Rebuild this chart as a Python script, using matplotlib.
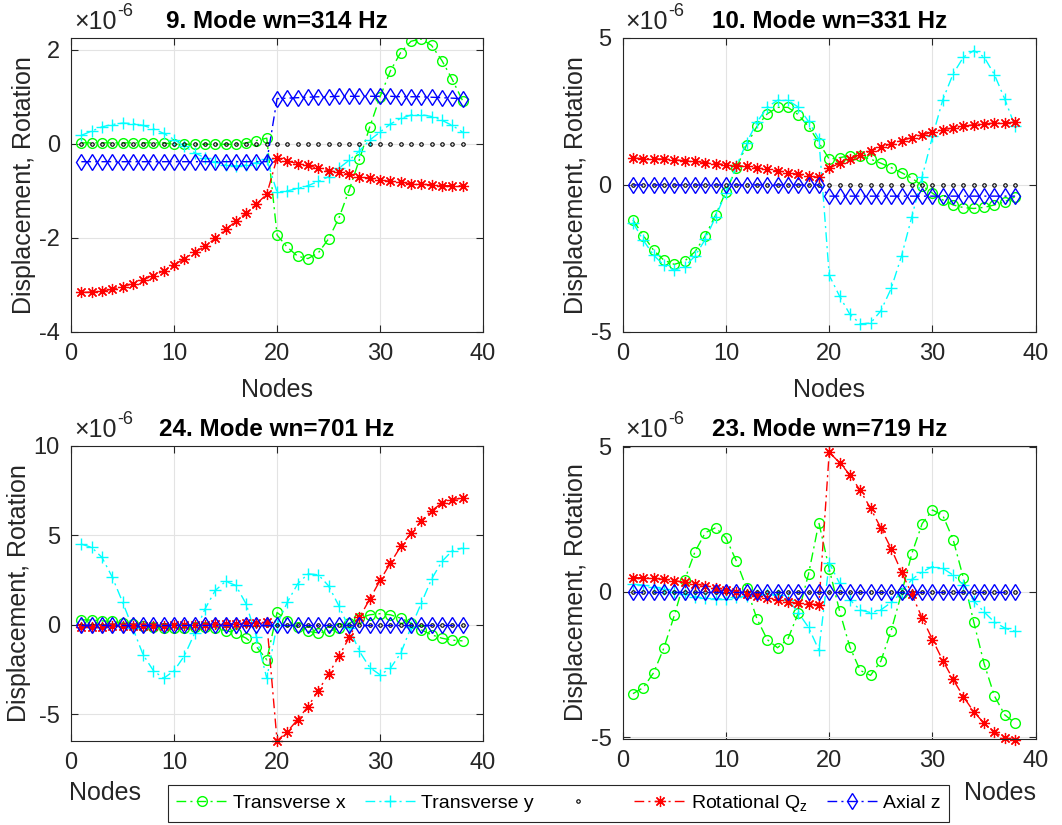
import matplotlib
matplotlib.use('Agg')
import matplotlib.pyplot as plt
from matplotlib.ticker import FuncFormatter
import numpy as np

plt.rcParams['font.family'] = ['Liberation Sans', 'DejaVu Sans']
plt.rcParams['axes.unicode_minus'] = False

nodes = np.arange(1, 39)

# values in units of 1e-6
# 9. Mode wn=314 Hz
m9_tx = [0.02, 0.02, 0.02, 0.02, 0.02, 0.02, 0.02, 0.02, 0.02, -0.01, -0.01, -0.01, -0.01, -0.01, -0.01,
         -0.01, 0.02, 0.07, 0.12, -1.94, -2.2, -2.39, -2.44, -2.32, -2.02, -1.58, -0.98, -0.33, 0.36, 1.0,
         1.55, 1.94, 2.18, 2.23, 2.09, 1.77, 1.37, 0.92]
m9_ty = [0.18, 0.27, 0.36, 0.41, 0.44, 0.43, 0.39, 0.32, 0.22, 0.09, -0.05, -0.19, -0.3, -0.39, -0.44,
         -0.47, -0.45, -0.4, -0.33, -1.03, -1.0, -0.95, -0.89, -0.8, -0.7, -0.52, -0.35, -0.15, 0.08, 0.25,
         0.42, 0.54, 0.61, 0.62, 0.58, 0.5, 0.39, 0.25]
m9_qz = [-3.16, -3.15, -3.13, -3.09, -3.04, -2.97, -2.89, -2.8, -2.7, -2.58, -2.44, -2.31, -2.18, -2.01,
         -1.82, -1.65, -1.47, -1.28, -1.07, -0.3, -0.37, -0.42, -0.46, -0.52, -0.57, -0.61, -0.65, -0.7,
         -0.73, -0.77, -0.8, -0.82, -0.85, -0.86, -0.87, -0.89, -0.89, -0.89]
m9_az = [-0.38] * 19 + [0.96, 0.97, 0.98, 0.99, 1.0, 1.0, 1.01, 1.01, 1.01, 1.01, 1.01, 1.01, 1.0, 1.0,
                        1.0, 0.99, 0.98, 0.97, 0.96]

# 10. Mode wn=331 Hz
m10_tx = [-1.19, -1.72, -2.22, -2.56, -2.7, -2.59, -2.27, -1.73, -1.02, -0.23, 0.57, 1.36, 1.99, 2.42,
          2.64, 2.64, 2.39, 1.99, 1.44, 0.88, 0.93, 0.99, 0.97, 0.88, 0.74, 0.59, 0.42, 0.23, -0.02, -0.28,
          -0.51, -0.68, -0.77, -0.8, -0.76, -0.68, -0.57, -0.4]
m10_ty = [-1.28, -1.88, -2.39, -2.73, -2.9, -2.78, -2.42, -1.85, -1.08, -0.26, 0.63, 1.44, 2.13, 2.65,
          2.88, 2.88, 2.65, 2.16, 1.56, -3.07, -3.78, -4.4, -4.72, -4.7, -4.28, -3.52, -2.42, -1.08, 0.28,
          1.65, 2.9, 3.78, 4.35, 4.57, 4.35, 3.75, 2.92, 1.99]
m10_qz = [0.91, 0.9, 0.89, 0.88, 0.85, 0.83, 0.8, 0.76, 0.73, 0.69, 0.66, 0.63, 0.58, 0.53, 0.48, 0.42,
          0.36, 0.3, 0.26, 0.57, 0.74, 0.88, 1.02, 1.16, 1.28, 1.4, 1.51, 1.61, 1.7, 1.8, 1.88, 1.94, 2.0,
          2.05, 2.08, 2.1, 2.11, 2.13]
m10_az = [0.0] * 19 + [-0.38] * 19

# 24. Mode wn=701 Hz
m24_tx = [0.28, 0.26, 0.22, 0.19, 0.11, 0.04, -0.06, -0.13, -0.19, -0.2, -0.19, -0.15, -0.13, -0.19,
          -0.32, -0.47, -0.75, -1.23, -1.96, 0.69, 0.24, -0.15, -0.37, -0.45, -0.37, -0.19, 0.09, 0.37,
          0.56, 0.62, 0.56, 0.37, 0.09, -0.28, -0.56, -0.75, -0.86, -0.9]
m24_ty = [4.51, 4.33, 3.77, 2.67, 1.27, -0.2, -1.68, -2.57, -2.99, -2.57, -1.74, -0.47, 0.88, 1.92, 2.43,
          2.2, 1.16, -0.67, -2.99, 0.0, 1.27, 2.29, 2.85, 2.8, 2.18, 1.06, -0.19, -1.49, -2.39, -2.8, -2.43,
          -1.59, -0.15, 1.21, 2.56, 3.54, 4.14, 4.29]
m24_qz = [-0.1, -0.1, -0.1, -0.09, -0.08, -0.07, -0.06, -0.05, -0.04, -0.03, -0.02, 0.0, 0.01, 0.03,
          0.05, 0.07, 0.09, 0.11, 0.13, -6.49, -5.97, -5.3, -4.57, -3.69, -2.74, -1.77, -0.71, 0.41, 1.44,
          2.48, 3.45, 4.38, 5.13, 5.82, 6.38, 6.81, 7.0, 7.09]
m24_az = [0.0] * 38

# 23. Mode wn=719 Hz
m23_tx = [-3.5, -3.29, -2.78, -1.92, -0.81, 0.41, 1.38, 2.04, 2.21, 1.86, 1.07, 0.13, -0.92, -1.64,
          -1.92, -1.62, -0.73, 0.62, 2.38, 0.79, -0.65, -1.9, -2.7, -2.87, -2.38, -1.33, -0.05, 1.32, 2.35,
          2.82, 2.63, 1.8, 0.47, -1.04, -2.47, -3.58, -4.23, -4.51]
m23_ty = [0.26, 0.24, 0.18, 0.1, 0.01, -0.08, -0.16, -0.22, -0.24, -0.24, -0.19, -0.14, -0.09, -0.07,
          -0.1, -0.27, -0.71, -1.22, -2.0, 1.0, 0.3, -0.27, -0.62, -0.71, -0.62, -0.36, -0.02, 0.43, 0.69,
          0.87, 0.81, 0.58, 0.24, -0.31, -0.69, -1.04, -1.24, -1.36]
m23_qz = [0.49, 0.49, 0.47, 0.43, 0.39, 0.33, 0.27, 0.22, 0.15, 0.08, 0.01, -0.07, -0.14, -0.22, -0.28,
          -0.34, -0.39, -0.42, -0.44, 4.8, 4.45, 4.03, 3.49, 2.88, 2.2, 1.49, 0.69, -0.08, -0.9, -1.64,
          -2.36, -3.01, -3.61, -4.12, -4.52, -4.83, -5.02, -5.09]
m23_az = [0.0] * 38

zero = [0.0] * 38

titles = ['9. Mode wn=314 Hz', '10. Mode wn=331 Hz', '24. Mode wn=701 Hz', '23. Mode wn=719 Hz']
modes = [(m9_tx, m9_ty, m9_qz, m9_az), (m10_tx, m10_ty, m10_qz, m10_az),
         (m24_tx, m24_ty, m24_qz, m24_az), (m23_tx, m23_ty, m23_qz, m23_az)]
ylims = [(-4, 2.25), (-5, 5), (-6.5, 10), (-5.06, 5.02)]
yticks = [[-4, -2, 0, 2], [-5, 0, 5], [-5, 0, 5, 10], [-5, 0, 5]]
legend_labels = ['Transverse x', 'Transverse y', ' ', r'Rotational Q$_\mathregular{z}$', 'Axial z']

axcol = '#262626'
dd = (0, (7, 3, 1.5, 3))
asterisk = (8, 2, 0)
s = 1e-6

fig = plt.figure(figsize=(10.62, 8.25), dpi=100)
rects = [[0.0669, 0.5976, 0.388, 0.3564], [0.5863, 0.5976, 0.389, 0.3564],
         [0.0669, 0.1018, 0.388, 0.3576], [0.5863, 0.1042, 0.389, 0.3552]]

handles = None
for i, (tx, ty, qz, az) in enumerate(modes):
    ax = fig.add_axes(rects[i])
    h1, = ax.plot(nodes, np.array(tx) * s, color=(0, 1, 0), ls=dd, lw=1, marker='o', ms=7, mfc='none')
    h2, = ax.plot(nodes, np.array(ty) * s, color=(0, 1, 1), ls=dd, lw=1, marker='+', ms=9)
    h3, = ax.plot(nodes, np.array(zero) * s, color='k', ls='none', marker='o', ms=2.5, mfc='none', mew=0.8)
    h4, = ax.plot(nodes, np.array(qz) * s, color=(1, 0, 0), ls=dd, lw=1, marker=asterisk, ms=8, mew=0.9,
                  clip_on=False)
    h5, = ax.plot(nodes, np.array(az) * s, color=(0, 0, 1), ls=dd, lw=1, marker='d', ms=8, mfc='none')
    handles = [h1, h2, h3, h4, h5]

    ax.set_xlim(0, 40)
    ax.set_xticks([0, 10, 20, 30, 40])
    ax.set_ylim(ylims[i][0] * s, ylims[i][1] * s)
    ax.set_yticks(np.array(yticks[i]) * s)
    ax.yaxis.set_major_formatter(FuncFormatter(lambda v, p: '%g' % round(v / s, 6)))
    # exponent label, MATLAB style
    ax.annotate('\u00d710', xy=(0, 1), xycoords='axes fraction', xytext=(2, 3), textcoords='offset points',
                ha='left', va='bottom', fontsize=18, color=axcol)
    ax.annotate('-6', xy=(0, 1), xycoords='axes fraction', xytext=(33, 13), textcoords='offset points',
                ha='left', va='bottom', fontsize=13, color=axcol)
    ax.grid(True, color='#e3e3e3', lw=0.8)
    ax.set_axisbelow(True)
    for sp in ax.spines.values():
        sp.set_color(axcol)
        sp.set_linewidth(0.8)
    ax.tick_params(direction='in', length=5, width=0.8, top=True, right=True, labelsize=17,
                   colors=axcol, pad=8)
    ax.set_title(titles[i], fontsize=17.5, fontweight='bold', pad=7)
    ax.set_ylabel('Displacement, Rotation', fontsize=18, color=axcol, labelpad=2)
    ax.set_xlabel('Nodes', fontsize=18, color=axcol, labelpad=9)
    if i == 2:
        ax.xaxis.set_label_coords(0.083, -0.176)
        ax.xaxis.label.set_va('center')
    elif i == 3:
        ax.xaxis.set_label_coords(0.913, -0.184)
        ax.xaxis.label.set_va('center')

leg = fig.legend(handles, legend_labels, loc='upper center', bbox_to_anchor=(0.526, 0.0485), ncol=5,
                 fontsize=14, frameon=True, fancybox=False, edgecolor=axcol, framealpha=1,
                 handlelength=2.6, handletextpad=0.3, columnspacing=1.0, borderaxespad=0)
leg.get_frame().set_linewidth(0.8)

fig.savefig('out.png', dpi=100)
